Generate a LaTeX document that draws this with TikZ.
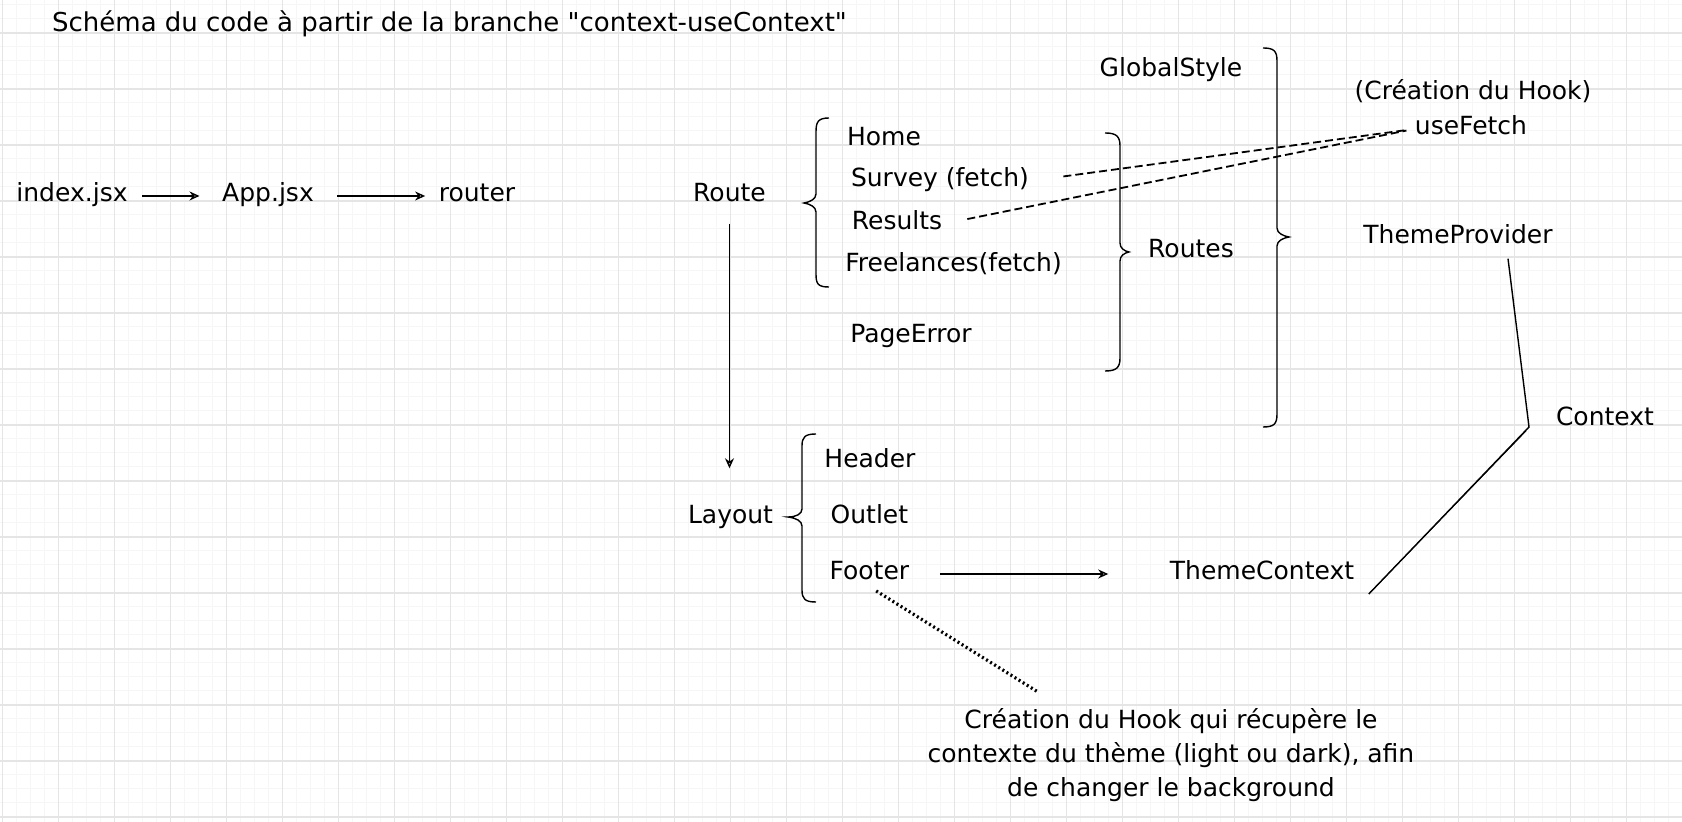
\documentclass[tikz,border=0pt]{standalone}
\usepackage{fontspec}
\setmainfont{DejaVu Sans}[Ligatures=TeXOff]
\usetikzlibrary{arrows.meta}

\begin{document}
\begin{tikzpicture}[x=.5pt, y=-.5pt, line width=.7pt,
        lbl/.style={inner sep=0pt, text height=9pt, text depth=3pt, font=\fontsize{12.5}{17}\selectfont},
        note/.style={inner sep=0pt, align=center, font=\fontsize{12.5}{17}\selectfont},
        arr/.style={-{Stealth[open, length=5pt, width=4.5pt]}},
        dashline/.style={line width=.9pt, dash pattern=on 4pt off 2pt},
        dotline/.style={line width=1.6pt, dash pattern=on 1pt off 1.4pt},
        minorgrid/.style={draw=black!3.5, line width=.5pt},
        majorgrid/.style={draw=black!10, line width=.6pt}]
        \useasboundingbox (0,0) rectangle (1682,822);
        \fill[white] (0,0) rectangle (1682,822);
        \begin{scope}[shift={(2.7,33)}]
            \draw[minorgrid, step=7pt] (-56,800) grid (1690,-56);
            \draw[majorgrid, step=28pt] (-56,800) grid (1690,-56);
        \end{scope}

        \node[lbl, font=\fontsize{13}{17}\selectfont] (title) at (449.5,26) {Schéma du code à partir de la branche "context-useContext"};
        \node[lbl] (index) at (72,196) {index.jsx};
        \node[lbl] (app) at (268,196) {App.jsx};
        \node[lbl] (router) at (477,196) {router};
        \node[lbl] (route) at (729.5,196) {Route};
        \node[lbl] (layout) at (730.5,518) {Layout};

        \node[lbl] (home) at (884,140) {Home};
        \node[lbl] (survey) at (940,181) {Survey (fetch)};
        \node[lbl] (results) at (897,224) {Results};
        \node[lbl] (freelances) at (953.6,266) {Freelances(fetch)};
        \node[lbl] (pageerror) at (911,337) {PageError};
        \node[lbl] (routes) at (1191,252) {Routes};
        \node[lbl] (globalstyle) at (1171,71) {GlobalStyle};
        \node[lbl] (creation) at (1473,94) {(Création du Hook)};
        \node[lbl] (usefetch) at (1471,129) {useFetch};
        \node[lbl] (themeprov) at (1458,238) {ThemeProvider};
        \node[lbl] (context) at (1605,420) {Context};

        \node[lbl] (header) at (870,462) {Header};
        \node[lbl] (outlet) at (869.4,518) {Outlet};
        \node[lbl] (footer) at (869.4,574) {Footer};
        \node[lbl] (themectx) at (1262,574) {ThemeContext};
        \node[note] (hooknote) at (1171,755) {Création du Hook qui récupère le\\contexte du thème (light ou dark), afin\\de changer le background};

        \coordinate (ctxcorner) at (1529,427);
        \coordinate (hooktip) at (1038,692);

        \draw[arr, shorten <=7pt, shorten >=11pt] (index) -- (app);
        \draw[arr, shorten <=11.5pt, shorten >=6.5pt] (app.east) -- (app.east -| router.west);
        \draw[arr, shorten <=7.5pt, shorten >=18.5pt] (route.south) -- (route.south |- layout.north);
        \draw[arr, shorten <=15pt, shorten >=30.5pt] (footer) -- (themectx);

        \draw[dashline, shorten <=17pt, shorten >=4pt] (survey.east) -- (usefetch.west);
        \draw[dashline, shorten <=12.5pt, shorten >=4pt] (results.east) -- (usefetch.west);
        \draw[dotline, shorten <=4pt] (footer.south) -- (hooktip);

        \draw ([shift={(25pt,-4pt)}]themeprov.south) -- (ctxcorner) -- ([shift={(7pt,-10pt)}]themectx.east);
        \draw[line width=.4pt] ([shift={(-1.5pt,-2pt)}]ctxcorner) -- ([shift={(7pt,-10pt)}]themectx.east);

        \draw (829,118) .. controls (818,118) and (816,122) .. (816,132) -- (816,194) .. controls (816,199) and (810,202) .. (804,203) .. controls (810,204) and (816,207) .. (816,212) -- (816,274) .. controls (816,284) and (818,287) .. (829,287);
        \draw (816,434) .. controls (805,434) and (802,437) .. (802,446) -- (802,509) .. controls (802,514) and (796,517) .. (788,517) .. controls (796,518) and (802,521) .. (802,526) -- (802,590) .. controls (802,599) and (805,602) .. (816,602);
        \draw (1105,133) .. controls (1116,133) and (1120,136) .. (1120,146) -- (1120,243) .. controls (1120,248) and (1124,251) .. (1129,252) .. controls (1124,253) and (1120,256) .. (1120,261) -- (1120,358) .. controls (1120,368) and (1116,371) .. (1105,371);
        \draw (1263,48) .. controls (1274,48) and (1277,51) .. (1277,61) -- (1277,228) .. controls (1277,233) and (1283,236) .. (1289,237) .. controls (1283,238) and (1277,241) .. (1277,246) -- (1277,414) .. controls (1277,424) and (1274,427) .. (1263,427);
\end{tikzpicture}
\end{document}
